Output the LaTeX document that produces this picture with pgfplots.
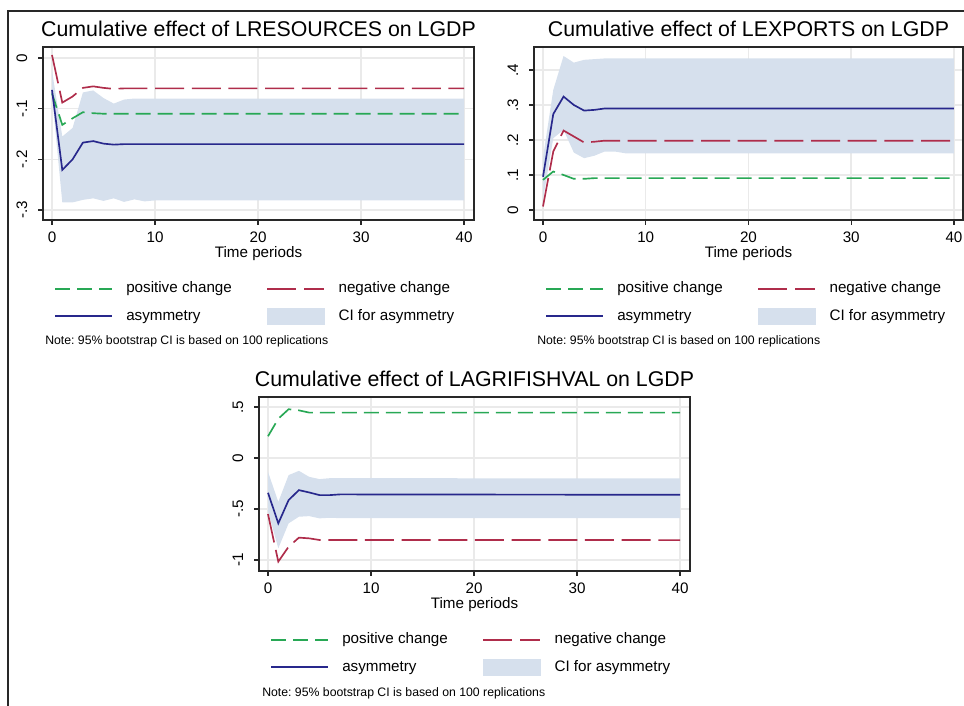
\documentclass[border=0pt]{standalone}
\usepackage{fontspec}
\setmainfont{Liberation Sans}
\usepackage{pgfplots}
\pgfplotsset{compat=1.18}
\usepgfplotslibrary{fillbetween}
\frenchspacing

\definecolor{poscol}{RGB}{40,168,85}
\definecolor{negcol}{RGB}{175,45,75}
\definecolor{asycol}{RGB}{40,40,140}
\definecolor{cicol}{RGB}{214,224,237}
\definecolor{gridcol}{RGB}{234,234,234}
\definecolor{framecol}{RGB}{40,40,40}

\pgfplotsset{
  irfpanel/.style={
    scale only axis, width=323.25pt, height=129.75pt, anchor=south west,
    axis line style={framecol, line width=1.3pt},
    xtick pos=bottom, ytick pos=left,
    tick align=outside, major tick length=3.75pt,
    tick style={framecol, line width=0.9pt},
    xtick={0,10,20,30,40}, xmin=-0.874, xmax=40.97,
    grid=major, major grid style={gridcol, line width=1.1pt},
    /pgf/number format/assume math mode=true,
    tick label style={font=\fontsize{11.4}{13}\selectfont},
    xticklabel style={anchor=base}, xticklabel shift=13.5pt,
    yticklabel style={rotate=90, anchor=base}, yticklabel shift=8.25pt,
    title style={font=\fontsize{16}{19}\selectfont, at={(0.5,1)}, anchor=base, yshift=1.5pt},
    xlabel={Time periods},
    xlabel style={font=\fontsize{11.4}{13}\selectfont, at={(axis description cs:0.5,0)}, anchor=base, yshift=-28.5pt},
    legend columns=2, legend cell align=left,
    legend image code/.code={\draw[##1] (0pt,0pt) -- (42.75pt,0pt);},
    legend style={at={(axis description cs:0,0)}, anchor=north west,
      xshift=8.25pt, yshift=-46pt, draw=none, fill=none, inner sep=0pt,
      row sep=8.75pt, font=\fontsize{11.4}{13}\selectfont,
      nodes={inner sep=0pt, text height=8.5pt, text depth=2.5pt},
      /tikz/every odd column/.append style={column sep=10pt},
      /tikz/every even column/.append style={column sep=26pt}},
  },
  posline/.style={poscol, line width=1.25pt, dash pattern=on 11.25pt off 5.25pt},
  negline/.style={negcol, line width=1.25pt, dash pattern=on 21.75pt off 5.75pt},
  asyline/.style={asycol, line width=1.25pt},
}

\newcommand{\irflegend}{%
  \addlegendimage{posline}\addlegendentry{positive change}
  \addlegendimage{negline}\addlegendentry{negative change}
  \addlegendimage{asyline}\addlegendentry{asymmetry}
  \addlegendimage{legend image code/.code={\fill[cicol] (0pt,-6pt) rectangle (42.75pt,6pt);}}
  \addlegendentry{CI for asymmetry}}

\begin{document}
\begin{tikzpicture}
\path (0pt,0pt) rectangle (723pt,529.5pt);
\draw[framecol, line width=1.1pt] (6pt,0pt) -- (6pt,521.25pt) -- (723pt,521.25pt);

% LRESOURCES
\begin{axis}[irfpanel, at={(32.25pt,364.5pt)},
  title={Cumulative effect of LRESOURCES on LGDP},
  ymin=-0.3197, ymax=0.0217,
  ytick={-0.3,-0.2,-0.1,0}, yticklabels={-.3,-.2,-.1,0}]
\addplot[name path=up, draw=none, forget plot] coordinates {(0,-0.025)(1,-0.155)(2,-0.138)(3,-0.068)(4,-0.064)(5,-0.079)(6,-0.090)(7,-0.082)(8,-0.080)(9,-0.080)(10,-0.080)(40,-0.080)};
\addplot[name path=lo, draw=none, forget plot] coordinates {(0,-0.075)(1,-0.285)(2,-0.285)(3,-0.280)(4,-0.277)(5,-0.282)(6,-0.277)(7,-0.284)(8,-0.279)(9,-0.283)(10,-0.281)(40,-0.281)};
\addplot[cicol, forget plot] fill between[of=up and lo];
\addplot[posline, forget plot] coordinates {(0,-0.070)(1,-0.132)(2,-0.119)(3,-0.107)(4,-0.109)(5,-0.110)(6,-0.110)(40,-0.110)};
\addplot[negline, forget plot] coordinates {(0,0.006)(1,-0.088)(2,-0.076)(3,-0.059)(4,-0.056)(5,-0.059)(6,-0.061)(7,-0.060)(40,-0.060)};
\addplot[asyline, forget plot] coordinates {(0,-0.063)(1,-0.221)(2,-0.200)(3,-0.167)(4,-0.164)(5,-0.169)(6,-0.171)(7,-0.170)(40,-0.170)};
\irflegend
\end{axis}

% LEXPORTS
\begin{axis}[irfpanel, at={(400.5pt,364.5pt)}, width=321.75pt,
  title={Cumulative effect of LEXPORTS on LGDP},
  xmin=-0.876, xmax=40.88, ymin=-0.0286, ymax=0.4657,
  ytick={0,0.1,0.2,0.3,0.4}, yticklabels={0,.1,.2,.3,.4}]
\addplot[name path=up, draw=none, forget plot] coordinates {(0,0.150)(1,0.343)(2,0.440)(3,0.421)(4,0.429)(5,0.431)(6,0.433)(7,0.433)(8,0.433)(40,0.433)};
\addplot[name path=lo, draw=none, forget plot] coordinates {(0,0.030)(1,0.205)(2,0.229)(3,0.164)(4,0.148)(5,0.155)(6,0.167)(7,0.167)(8,0.162)(40,0.162)};
\addplot[cicol, forget plot] fill between[of=up and lo];
\addplot[posline, forget plot] coordinates {(0,0.086)(1,0.110)(2,0.100)(3,0.089)(4,0.089)(5,0.091)(40,0.091)};
\addplot[negline, forget plot] coordinates {(0,0.010)(1,0.167)(2,0.227)(3,0.210)(4,0.193)(5,0.195)(6,0.198)(40,0.198)};
\addplot[asyline, forget plot] coordinates {(0,0.095)(1,0.274)(2,0.324)(3,0.300)(4,0.284)(5,0.286)(6,0.290)(40,0.290)};
\irflegend
\end{axis}

% LAGRIFISHVAL
\begin{axis}[irfpanel, at={(194.25pt,101.25pt)}, height=130.5pt,
  title={Cumulative effect of LAGRIFISHVAL on LGDP},
  ymin=-1.108, ymax=0.598,
  ytick={-1,-0.5,0,0.5}, yticklabels={-1,-.5,0,.5}]
\addplot[name path=up, draw=none, forget plot] coordinates {(0,-0.136)(1,-0.430)(2,-0.168)(3,-0.126)(4,-0.185)(5,-0.207)(6,-0.198)(7,-0.198)(40,-0.200)};
\addplot[name path=lo, draw=none, forget plot] coordinates {(0,-0.520)(1,-0.886)(2,-0.641)(3,-0.576)(4,-0.570)(5,-0.592)(6,-0.586)(7,-0.590)(40,-0.590)};
\addplot[cicol, forget plot] fill between[of=up and lo];
\addplot[posline, forget plot] coordinates {(0,0.213)(1,0.385)(2,0.478)(3,0.467)(4,0.445)(5,0.445)(40,0.445)};
\addplot[negline, forget plot] coordinates {(0,-0.550)(1,-1.016)(2,-0.870)(3,-0.781)(4,-0.788)(5,-0.804)(40,-0.805)};
\addplot[asyline, forget plot] coordinates {(0,-0.341)(1,-0.641)(2,-0.413)(3,-0.315)(4,-0.338)(5,-0.364)(6,-0.364)(7,-0.357)(40,-0.361)};
\irflegend
\end{axis}

\node[anchor=base west, inner sep=0pt, font=\fontsize{9.2}{11}\selectfont] at (33.75pt,270.75pt) {Note: 95\% bootstrap CI is based on 100 replications};
\node[anchor=base west, inner sep=0pt, font=\fontsize{9.2}{11}\selectfont] at (402.75pt,270.75pt) {Note: 95\% bootstrap CI is based on 100 replications};
\node[anchor=base west, inner sep=0pt, font=\fontsize{9.2}{11}\selectfont] at (196.5pt,6.75pt) {Note: 95\% bootstrap CI is based on 100 replications};

\pgfresetboundingbox
\useasboundingbox (0pt,0pt) rectangle (723pt,529.5pt);
\end{tikzpicture}
\end{document}
